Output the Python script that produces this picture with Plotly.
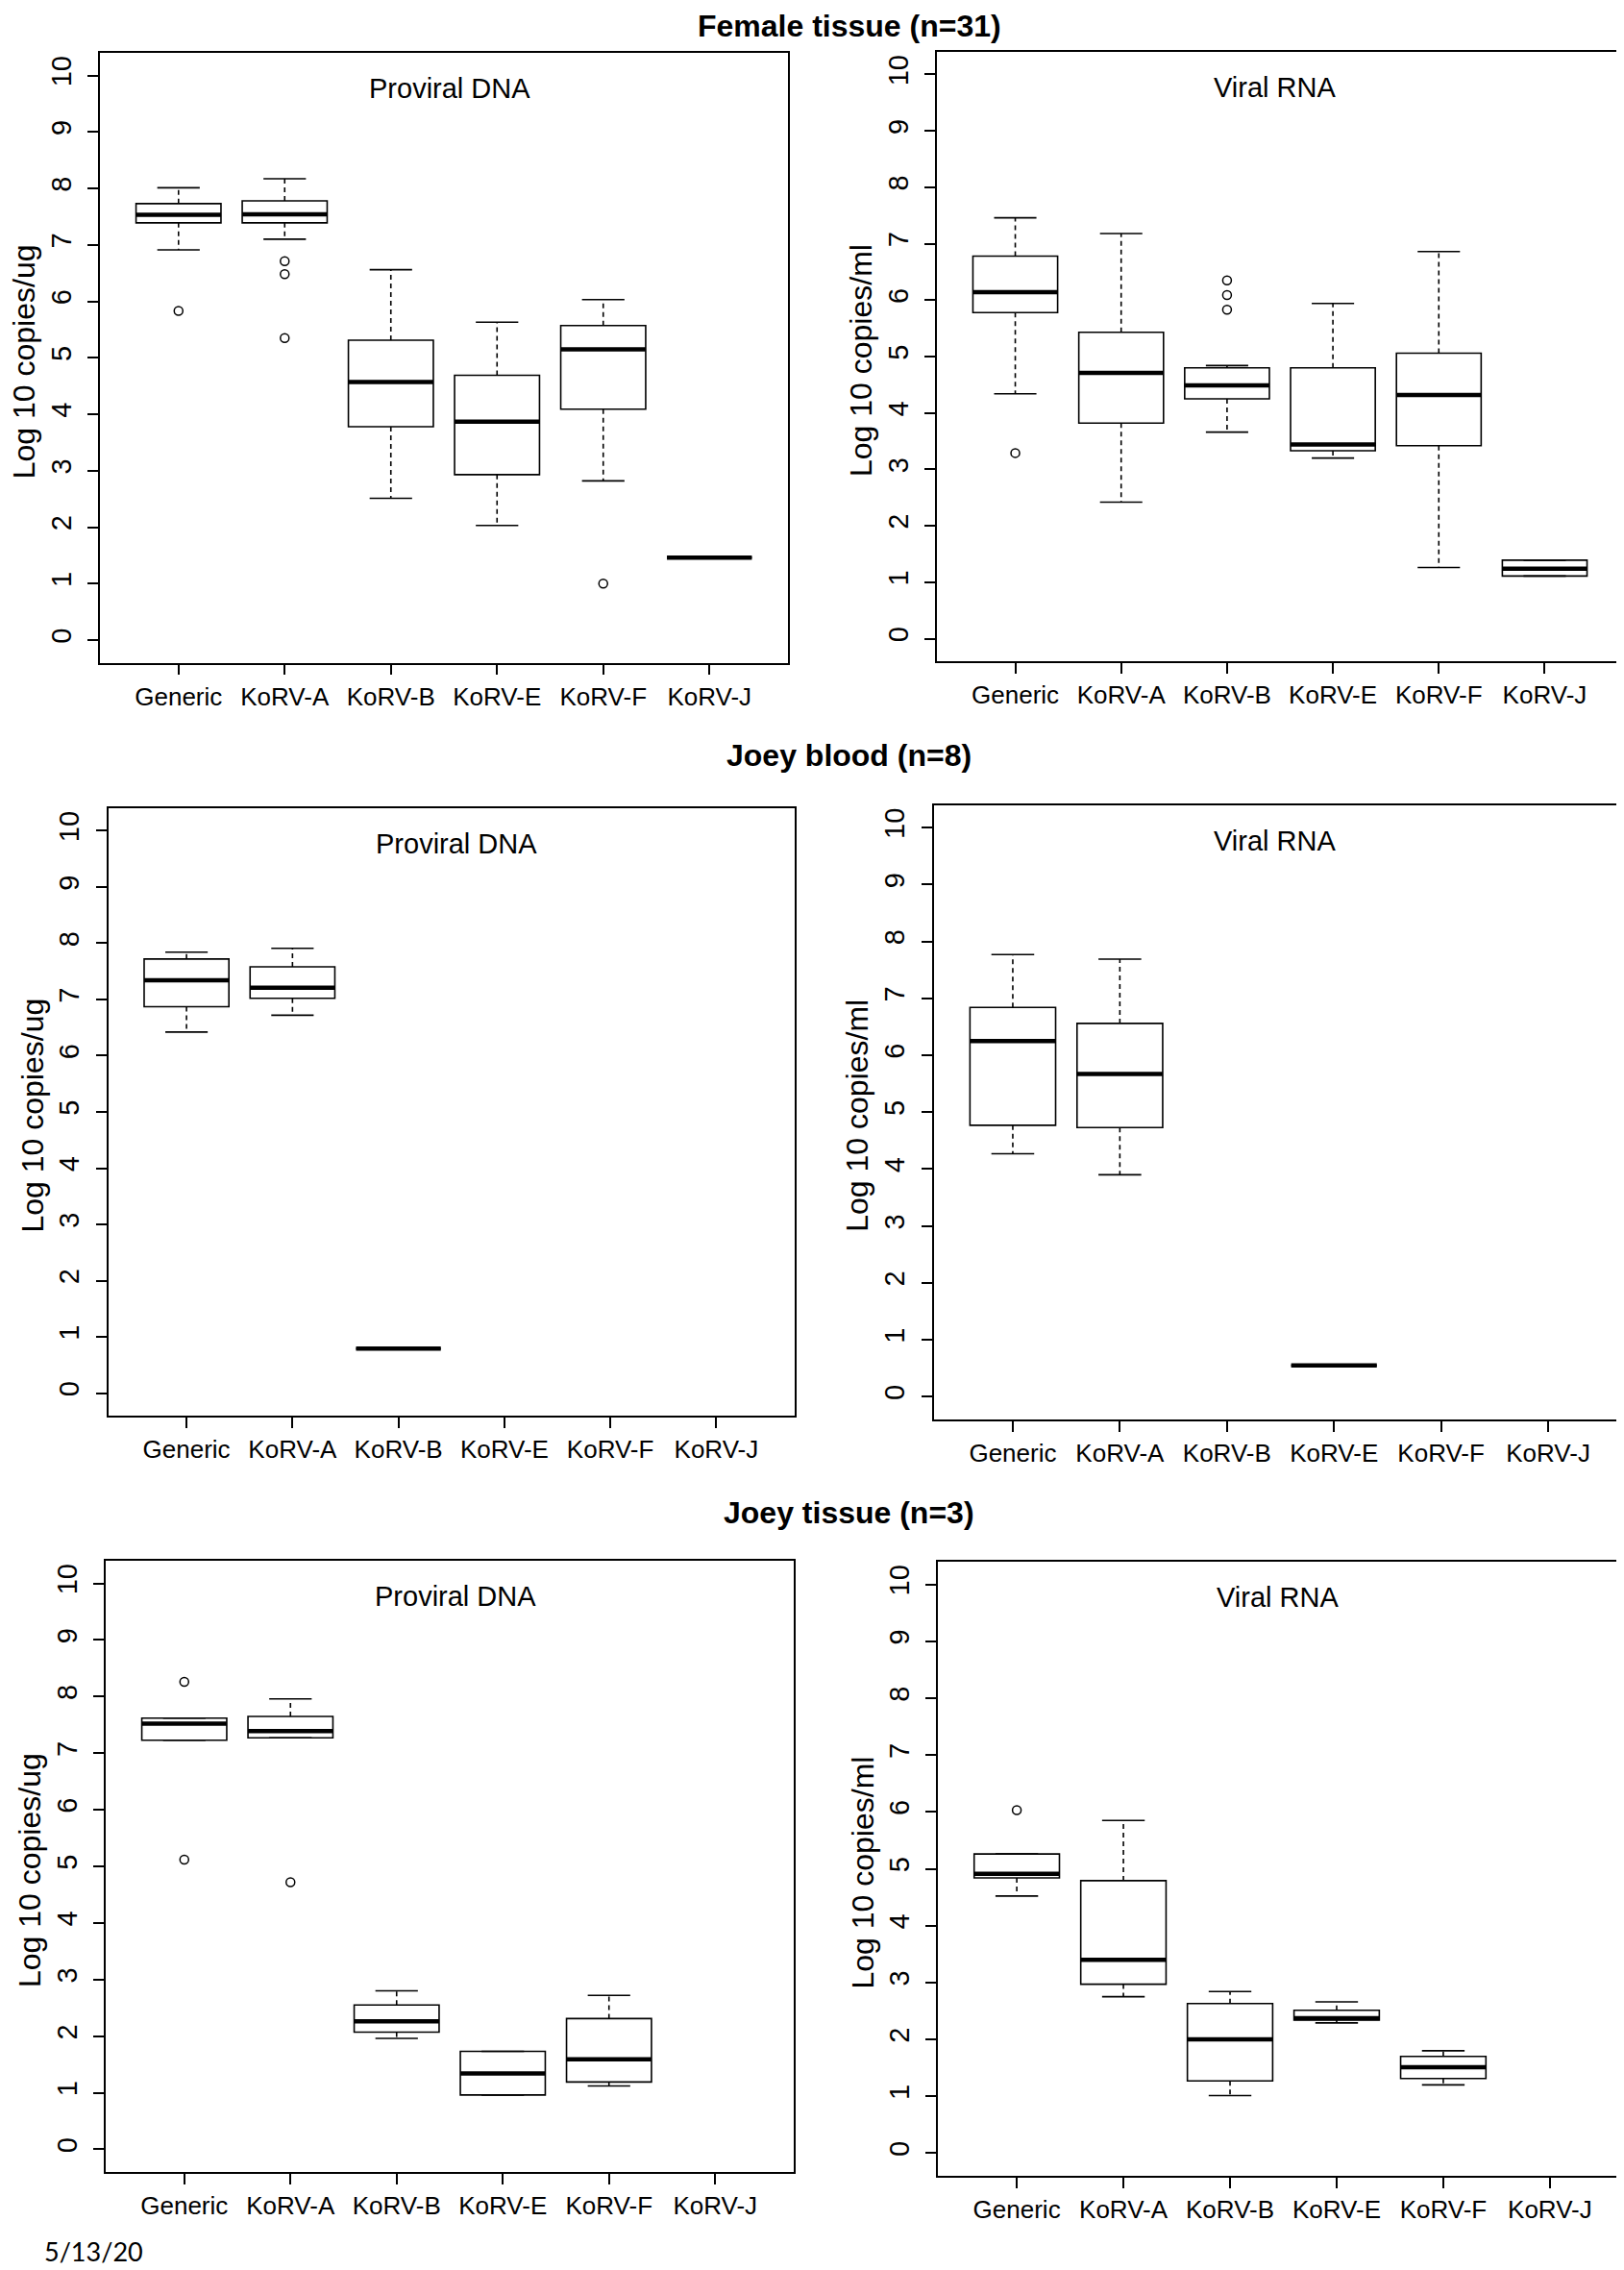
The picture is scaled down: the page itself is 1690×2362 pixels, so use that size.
import plotly.graph_objects as go

# ---------------- data ----------------
categories = ["Generic", "KoRV-A", "KoRV-B", "KoRV-E", "KoRV-F", "KoRV-J"]
y_ticks = [0, 1, 2, 3, 4, 5, 6, 7, 8, 9, 10]

# Female tissue (n=31) - Proviral DNA
ft_dna_low = [6.91, 7.10, 2.51, 2.03, 2.82, 1.46]
ft_dna_q1 = [7.39, 7.39, 3.78, 2.93, 4.09, 1.46]
ft_dna_med = [7.53, 7.54, 4.57, 3.87, 5.15, 1.46]
ft_dna_q3 = [7.73, 7.78, 5.31, 4.69, 5.57, 1.46]
ft_dna_high = [8.01, 8.17, 6.56, 5.63, 6.03, 1.46]
ft_dna_out_cat = ["Generic", "KoRV-A", "KoRV-A", "KoRV-A", "KoRV-F"]
ft_dna_out_val = [5.83, 6.71, 6.48, 5.35, 1.00]

# Female tissue (n=31) - Viral RNA
ft_rna_low = [4.34, 2.42, 3.66, 3.20, 1.26, 1.11]
ft_rna_q1 = [5.78, 3.82, 4.25, 3.33, 3.42, 1.11]
ft_rna_med = [6.14, 4.71, 4.49, 3.44, 4.32, 1.24]
ft_rna_q3 = [6.78, 5.43, 4.80, 4.80, 5.06, 1.39]
ft_rna_high = [7.46, 7.18, 4.84, 5.94, 6.86, 1.39]
ft_rna_out_cat = ["Generic", "KoRV-B", "KoRV-B", "KoRV-B"]
ft_rna_out_val = [3.29, 6.35, 6.09, 5.83]

# Joey blood (n=8) - Proviral DNA
jb_dna_low = [6.42, 6.72, 0.79, None, None, None]
jb_dna_q1 = [6.87, 7.02, 0.79, None, None, None]
jb_dna_med = [7.34, 7.21, 0.79, None, None, None]
jb_dna_q3 = [7.72, 7.58, 0.79, None, None, None]
jb_dna_high = [7.84, 7.91, 0.79, None, None, None]
jb_dna_out_cat = []
jb_dna_out_val = []

# Joey blood (n=8) - Viral RNA
jb_rna_low = [4.27, 3.90, None, 0.55, None, None]
jb_rna_q1 = [4.77, 4.73, None, 0.55, None, None]
jb_rna_med = [6.25, 5.67, None, 0.55, None, None]
jb_rna_q3 = [6.84, 6.56, None, 0.55, None, None]
jb_rna_high = [7.77, 7.69, None, 0.55, None, None]
jb_rna_out_cat = []
jb_rna_out_val = []

# Joey tissue (n=3) - Proviral DNA
jt_dna_low = [7.23, 7.27, 1.96, 0.96, 1.12, None]
jt_dna_q1 = [7.23, 7.27, 2.07, 0.96, 1.19, None]
jt_dna_med = [7.52, 7.39, 2.26, 1.34, 1.59, None]
jt_dna_q3 = [7.62, 7.65, 2.55, 1.73, 2.31, None]
jt_dna_high = [7.62, 7.96, 2.80, 1.73, 2.72, None]
jt_dna_out_cat = ["Generic", "Generic", "KoRV-A"]
jt_dna_out_val = [8.26, 5.12, 4.72]

# Joey tissue (n=3) - Viral RNA
jt_rna_low = [4.52, 2.75, 1.01, 2.29, 1.20, None]
jt_rna_q1 = [4.84, 2.97, 1.27, 2.34, 1.31, None]
jt_rna_med = [4.91, 3.40, 2.00, 2.37, 1.51, None]
jt_rna_q3 = [5.26, 4.79, 2.63, 2.51, 1.70, None]
jt_rna_high = [5.26, 5.85, 2.84, 2.66, 1.80, None]
jt_rna_out_cat = ["Generic"]
jt_rna_out_val = [6.03]

group_titles = ["Female tissue (n=31)", "Joey blood (n=8)", "Joey tissue (n=3)"]
panel_labels = ["Proviral DNA", "Viral RNA"]
y_titles = ["Log 10 copies/ug", "Log 10 copies/ml"]
date_text = "5/13/20"

# ---------------- layout geometry (pixels in a 1690x2362 page) ----------------
W, H = 1690, 2362
frames = [  # left, right, top, bottom
    (96, 812, 47, 681.5),
    (967, 1681, 46, 680),
    (104.5, 819, 833, 1465),
    (963.5, 1685.5, 829.5, 1469),
    (102, 818, 1616, 2252),
    (968, 1687, 1617, 2256),
]
title_y_px = [None, 778, 1566]   # first title is pinned to the top edge
title_x_px = 876

panels = [
    (ft_dna_low, ft_dna_q1, ft_dna_med, ft_dna_q3, ft_dna_high, ft_dna_out_cat, ft_dna_out_val),
    (ft_rna_low, ft_rna_q1, ft_rna_med, ft_rna_q3, ft_rna_high, ft_rna_out_cat, ft_rna_out_val),
    (jb_dna_low, jb_dna_q1, jb_dna_med, jb_dna_q3, jb_dna_high, jb_dna_out_cat, jb_dna_out_val),
    (jb_rna_low, jb_rna_q1, jb_rna_med, jb_rna_q3, jb_rna_high, jb_rna_out_cat, jb_rna_out_val),
    (jt_dna_low, jt_dna_q1, jt_dna_med, jt_dna_q3, jt_dna_high, jt_dna_out_cat, jt_dna_out_val),
    (jt_rna_low, jt_rna_q1, jt_rna_med, jt_rna_q3, jt_rna_high, jt_rna_out_cat, jt_rna_out_val),
]

FONT = "Liberation Sans, Arial, sans-serif"
BOXW = 0.8
CAPW = 0.4
LW = 1.6

fig = go.Figure()
layout_axes = {}
annotations = []

for p, (low, q1, med, q3, high, out_cat, out_val) in enumerate(panels):
    n = p + 1
    xa = "x" if n == 1 else f"x{n}"
    ya = "y" if n == 1 else f"y{n}"
    pos = [i + 1 for i, v in enumerate(med) if v is not None]
    idx = [i for i, v in enumerate(med) if v is not None]

    # boxes
    fig.add_trace(go.Box(
        x=pos,
        q1=[q1[i] for i in idx], median=[med[i] for i in idx], q3=[q3[i] for i in idx],
        lowerfence=[q1[i] for i in idx], upperfence=[q3[i] for i in idx],
        width=BOXW, whiskerwidth=0, fillcolor="white",
        line=dict(color="black", width=LW), boxpoints=False,
        xaxis=xa, yaxis=ya, showlegend=False, hoverinfo="skip",
    ))
    # dashed whiskers
    wx, wy = [], []
    for i in idx:
        c = i + 1
        if high[i] > q3[i]:
            wx += [c, c, None]; wy += [q3[i], high[i], None]
        if low[i] < q1[i]:
            wx += [c, c, None]; wy += [q1[i], low[i], None]
    fig.add_trace(go.Scatter(x=wx, y=wy, mode="lines", xaxis=xa, yaxis=ya,
                             line=dict(color="black", width=LW, dash="5px,4px"),
                             showlegend=False, hoverinfo="skip"))
    # staples
    sx, sy = [], []
    for i in idx:
        c = i + 1
        for v in (high[i], low[i]):
            sx += [c - CAPW / 2, c + CAPW / 2, None]; sy += [v, v, None]
    fig.add_trace(go.Scatter(x=sx, y=sy, mode="lines", xaxis=xa, yaxis=ya,
                             line=dict(color="black", width=LW),
                             showlegend=False, hoverinfo="skip"))
    # medians
    mx, my = [], []
    for i in idx:
        c = i + 1
        mx += [c - BOXW / 2, c + BOXW / 2, None]; my += [med[i], med[i], None]
    fig.add_trace(go.Scatter(x=mx, y=my, mode="lines", xaxis=xa, yaxis=ya,
                             line=dict(color="black", width=4.5),
                             showlegend=False, hoverinfo="skip"))
    # outliers
    if out_val:
        fig.add_trace(go.Scatter(
            x=[categories.index(c) + 1 for c in out_cat], y=out_val, mode="markers",
            xaxis=xa, yaxis=ya,
            marker=dict(symbol="circle-open", size=9, color="black", line=dict(width=1.5)),
            showlegend=False, hoverinfo="skip"))

    l, r, t, b = frames[p]
    axis_common = dict(showline=True, mirror=True, linecolor="black", linewidth=LW,
                       ticks="outside", ticklen=11, tickwidth=LW, tickcolor="black",
                       showgrid=False, zeroline=False, fixedrange=True)
    xkey = "xaxis" if n == 1 else f"xaxis{n}"
    ykey = "yaxis" if n == 1 else f"yaxis{n}"
    layout_axes[xkey] = dict(axis_common, domain=[l / W, r / W], anchor=ya,
                             range=[0.26, 6.74], tickmode="array",
                             tickvals=list(range(1, len(categories) + 1)), ticktext=categories,
                             ticklabelstandoff=0,
                             tickfont=dict(family=FONT, size=26, color="black"))
    layout_axes[ykey] = dict(axis_common, domain=[1 - b / H, 1 - t / H], anchor=xa,
                             range=[-0.4, 10.4], tickmode="array", tickvals=y_ticks,
                             tickangle=-90, ticklabelstandoff=6,
                             tickfont=dict(family=FONT, size=29, color="black"))

    # panel label
    annotations.append(dict(text=panel_labels[p % 2], xref=xa, yref=ya,
                            x=3.55 if p % 2 == 0 else 3.45, y=9.77, showarrow=False,
                            xanchor="center", yanchor="middle",
                            font=dict(family=FONT, size=29, color="black")))
    # y-axis title
    annotations.append(dict(text=y_titles[p % 2], xref="paper", yref="paper",
                            x=(l - 79) / W, y=1 - ((t + b) / 2 + 4) / H, textangle=-90,
                            showarrow=False, xanchor="center", yanchor="middle",
                            font=dict(family=FONT, size=32, color="black")))

for k, gt in enumerate(group_titles):
    if title_y_px[k] is None:
        pos_kw = dict(y=1, yanchor="top", borderpad=0)
    else:
        pos_kw = dict(y=1 - title_y_px[k] / H, yanchor="middle")
    annotations.append(dict(text=f"<b>{gt}</b>", xref="paper", yref="paper",
                            x=title_x_px / W, showarrow=False, xanchor="center",
                            font=dict(family=FONT, size=32, color="black"), **pos_kw))

annotations.append(dict(text=date_text, xref="paper", yref="paper",
                        x=36 / W, y=1 - 2334 / H, showarrow=False,
                        xanchor="left", yanchor="middle",
                        font=dict(family="Lato, Open Sans, sans-serif", size=27, color="black")))

fig.update_layout(
    width=W, height=H, margin=dict(l=0, r=0, t=0, b=0),
    paper_bgcolor="white", plot_bgcolor="white",
    annotations=annotations, boxmode="overlay", **layout_axes,
)

fig.write_html("out.html")
